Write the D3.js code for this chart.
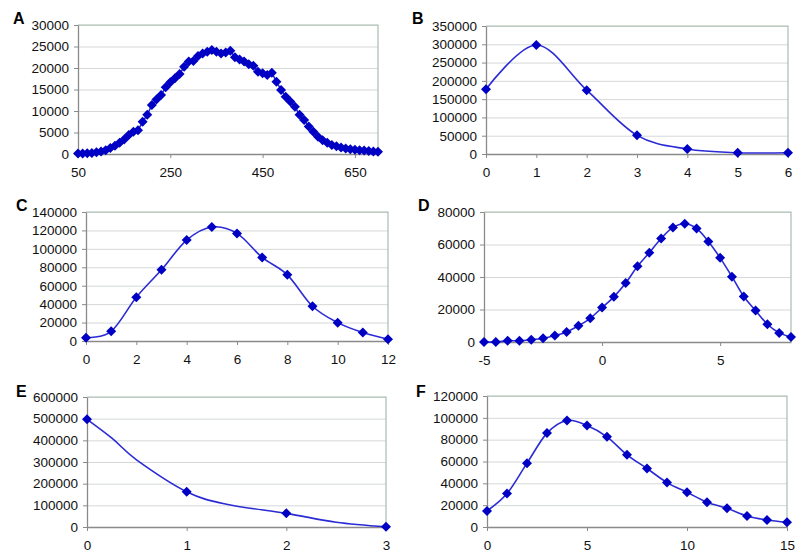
<!DOCTYPE html>
<html><head><meta charset="utf-8">
<script src="https://cdn.jsdelivr.net/npm/d3@7"></script>
<style>
body{margin:0;background:#fff;}
text{font-family:"Liberation Sans",Arial,sans-serif;}
</style></head>
<body><svg id="c" width="800" height="558"></svg>
<script>
// ---- Data ----
const xA = [50,60,70,80,90,100,110,120,130,140,150,160,170,180,190,200,210,220,230,240,250,260,270,280,290,300,310,320,330,340,350,360,370,380,390,400,410,420,430,440,450,460,470,480,490,500,510,520,530,540,550,560,570,580,590,600,610,620,630,640,650,660,670,680,690,700];
const yA = [100,100,150,250,400,600,900,1400,1900,2600,3400,4400,5200,5500,7500,9100,11400,12700,13700,15500,16700,17600,18600,20300,21500,21600,22800,23400,23800,24200,23800,23400,23600,24000,22500,22000,21500,20900,20500,19100,18800,18400,18900,16800,14900,13300,12200,11000,9100,7900,6400,5200,4000,3200,2600,2100,1800,1500,1300,1100,1000,900,800,700,600,500];
const ticksAx = [50,250,450,650];
const ticksAy = [0,5000,10000,15000,20000,25000,30000];

const xB = [0,1,2,3,4,5,6];
const yB = [177000,298000,174500,51000,13600,3600,3600];
const ticksBx = [0,1,2,3,4,5,6];
const ticksBy = [0,50000,100000,150000,200000,250000,300000,350000];

const xC = [0,1,2,3,4,5,6,7,8,9,10,11,12];
const yC = [3600,10500,47500,77300,109500,123700,116800,90700,71800,37700,19900,9100,1800];
const ticksCx = [0,2,4,6,8,10,12];
const ticksCy = [0,20000,40000,60000,80000,100000,120000,140000];

const xD = [-5,-4.5,-4,-3.5,-3,-2.5,-2,-1.5,-1,-0.5,0,0.5,1,1.5,2,2.5,3,3.5,4,4.5,5,5.5,6,6.5,7,7.5,8];
const yD = [0,0,800,800,1400,2300,4000,6200,10000,14600,21200,27800,36300,46600,55000,63700,70500,72800,69900,61900,51800,40200,28000,19400,10900,5600,3100];
const ticksDx = [-5,0,5];
const ticksDy = [0,20000,40000,60000,80000];

const xEline = [0,0.25,0.5,1,1.4,2,2.5,3];
const yEline = [497000,410000,309000,163000,105000,63000,22000,1000];
const xE = [0,1,2,3];
const yE = [497000,163000,63000,1000];
const ticksEx = [0,1,2,3];
const ticksEy = [0,100000,200000,300000,400000,500000,600000];

const xF = [0,1,2,3,4,5,6,7,8,9,10,11,12,13,14,15];
const yF = [14700,30600,58500,86000,97600,93000,82600,66100,53600,40700,31800,22700,17100,10100,6400,4300];
const ticksFx = [0,5,10,15];
const ticksFy = [0,20000,40000,60000,80000,100000,120000];

const letters = ["A","B","C","D","E","F"];

// ---- Layout ----
const panels = [
  {letter:letters[0], lx:13, ly:24, x0:78, x1:378, y0:25, y1:154, xd:[50,700], yd:[0,30000], lx_:xA, ly_:yA, mx:xA, my:yA, tx:ticksAx, ty:ticksAy, smooth:false},
  {letter:letters[1], lx:412, ly:24, x0:486, x1:788, y0:26, y1:154, xd:[0,6], yd:[0,350000], lx_:xB, ly_:yB, mx:xB, my:yB, tx:ticksBx, ty:ticksBy, smooth:true},
  {letter:letters[2], lx:16, ly:211, x0:86, x1:388, y0:212, y1:341, xd:[0,12], yd:[0,140000], lx_:xC, ly_:yC, mx:xC, my:yC, tx:ticksCx, ty:ticksCy, smooth:true},
  {letter:letters[3], lx:418, ly:211, x0:484, x1:791, y0:212, y1:342, xd:[-5,8], yd:[0,80000], lx_:xD, ly_:yD, mx:xD, my:yD, tx:ticksDx, ty:ticksDy, smooth:true},
  {letter:letters[4], lx:16, ly:397, x0:87, x1:386, y0:397, y1:527, xd:[0,3], yd:[0,600000], lx_:xEline, ly_:yEline, mx:xE, my:yE, tx:ticksEx, ty:ticksEy, smooth:true},
  {letter:letters[5], lx:416, ly:397, x0:487, x1:787, y0:396, y1:527, xd:[0,15], yd:[0,120000], lx_:xF, ly_:yF, mx:xF, my:yF, tx:ticksFx, ty:ticksFy, smooth:true}
];

const svg = d3.select("#c");
const lineColor = "#2b2bd6", markColor = "#0000c4";
const fmt = d => String(d);
const FS = 13.5;

panels.forEach(p => {
  const x = d3.scaleLinear().domain(p.xd).range([p.x0, p.x1]);
  const y = d3.scaleLinear().domain(p.yd).range([p.y1, p.y0]);
  const g = svg.append("g");

  // gridlines
  g.append("g").attr("transform", `translate(${p.x0},0)`)
    .call(d3.axisLeft(y).tickValues(p.ty).tickSize(-(p.x1 - p.x0)).tickFormat(""))
    .call(s => s.select(".domain").remove())
    .call(s => s.selectAll("line").attr("stroke", "#d4d9d6").attr("stroke-width", 1));

  // frame top/right
  g.append("path")
    .attr("d", `M${p.x0},${p.y0}H${p.x1}V${p.y1}`)
    .attr("fill", "none").attr("stroke", "#a9bdb0").attr("stroke-width", 1.2);

  // y axis
  g.append("g").attr("transform", `translate(${p.x0},0)`)
    .call(d3.axisLeft(y).tickValues(p.ty).tickSize(4).tickSizeOuter(0).tickPadding(5).tickFormat(fmt))
    .call(s => s.select(".domain").attr("stroke", "#8a8a8a").attr("stroke-width", 1.3))
    .call(s => s.selectAll("line").attr("stroke", "#8a8a8a"))
    .call(s => s.selectAll("text").attr("font-size", FS).attr("fill", "#111").attr("font-family", "Liberation Sans, Arial, sans-serif"));

  // x axis
  g.append("g").attr("transform", `translate(0,${p.y1})`)
    .call(d3.axisBottom(x).tickValues(p.tx).tickSize(4).tickSizeOuter(0).tickPadding(9).tickFormat(fmt))
    .call(s => s.select(".domain").attr("stroke", "#8a8a8a").attr("stroke-width", 1.3))
    .call(s => s.selectAll("line").attr("stroke", "#8a8a8a"))
    .call(s => s.selectAll("text").attr("font-size", FS).attr("fill", "#111").attr("font-family", "Liberation Sans, Arial, sans-serif"));

  // line
  const pts = p.lx_.map((v, i) => [v, p.ly_[i]]);
  const line = d3.line().x(d => x(d[0])).y(d => y(d[1]))
    .curve(p.smooth ? d3.curveCatmullRom.alpha(0) : d3.curveLinear);
  g.append("path").datum(pts).attr("d", line)
    .attr("fill", "none").attr("stroke", lineColor).attr("stroke-width", 1.6);

  // markers
  const mpts = p.mx.map((v, i) => [v, p.my[i]]);
  const r = 5;
  g.selectAll("path.m").data(mpts).join("path").attr("class", "m")
    .attr("transform", d => `translate(${x(d[0])},${y(d[1])})`)
    .attr("d", `M0,${-r}L${r},0L0,${r}L${-r},0Z`)
    .attr("fill", markColor);

  // panel letter
  svg.append("text").attr("x", p.lx).attr("y", p.ly).text(p.letter)
    .attr("font-size", 16).attr("font-weight", "bold").attr("fill", "#000");
});
</script></body></html>
